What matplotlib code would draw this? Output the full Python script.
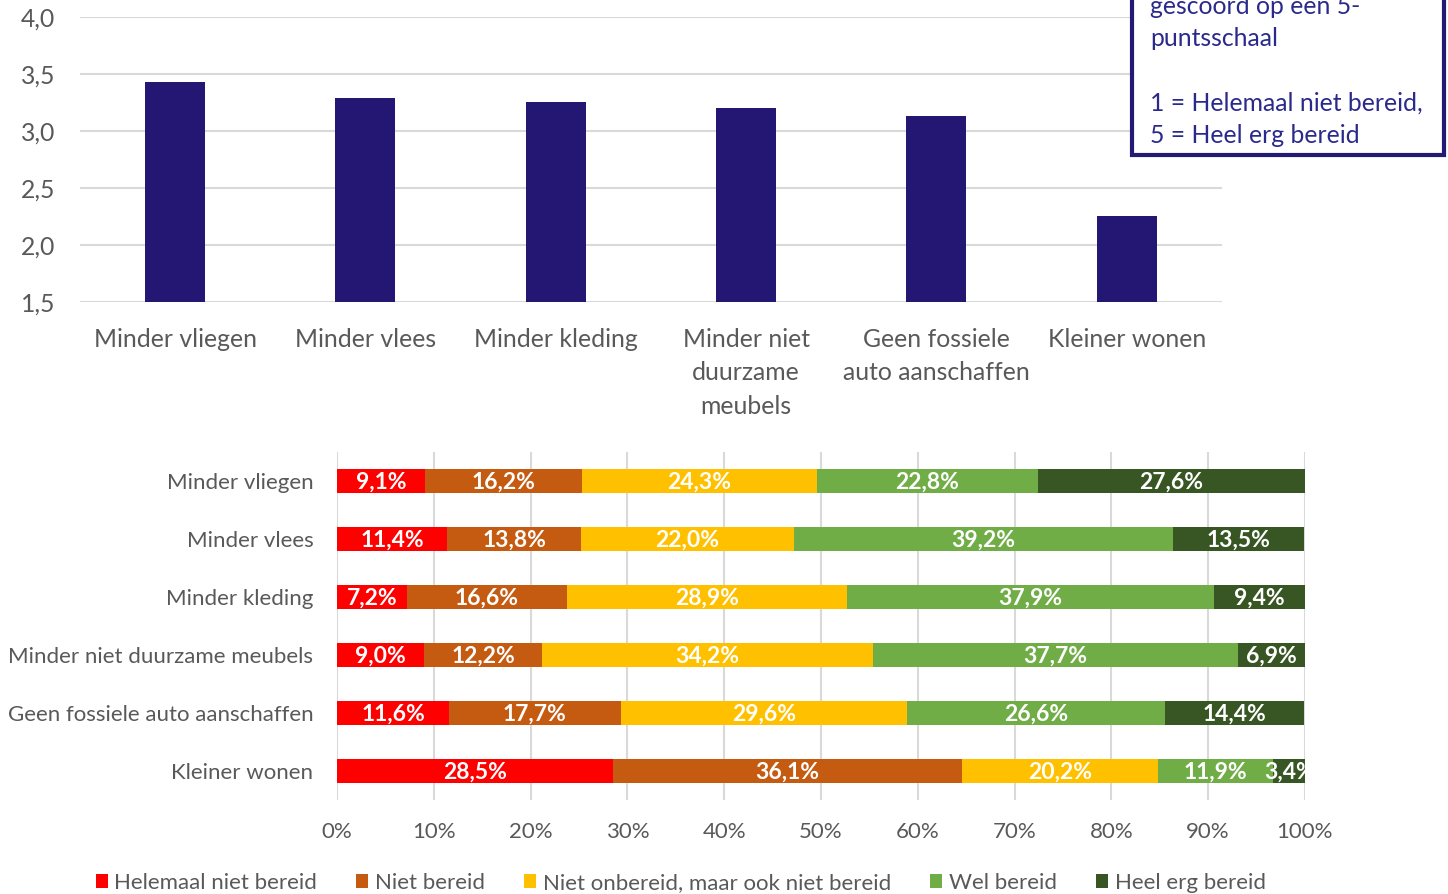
import matplotlib

matplotlib.use("Agg")
import matplotlib.pyplot as plt
from matplotlib.patches import Rectangle, Patch
import numpy as np

plt.rcParams["font.family"] = ["Lato", "DejaVu Sans"]

# top chart: mean scores on 5-point scale
mean_labels = ["Minder vliegen", "Minder vlees", "Minder kleding",
               "Minder niet\nduurzame\nmeubels", "Geen fossiele\nauto aanschaffen",
               "Kleiner wonen"]
mean_scores = [3.43, 3.29, 3.25, 3.20, 3.13, 2.25]
mean_ticks = [1.5, 2.0, 2.5, 3.0, 3.5, 4.0]

# bottom chart: answer distribution (%)
dist_labels = ["Minder vliegen", "Minder vlees", "Minder kleding",
               "Minder niet duurzame meubels", "Geen fossiele auto aanschaffen",
               "Kleiner wonen"]
answer_names = ["Helemaal niet bereid", "Niet bereid",
                "Niet onbereid, maar ook niet bereid", "Wel bereid", "Heel erg bereid"]
helemaal_niet = [9.1, 11.4, 7.2, 9.0, 11.6, 28.5]
niet = [16.2, 13.8, 16.6, 12.2, 17.7, 36.1]
neutraal = [24.3, 22.0, 28.9, 34.2, 29.6, 20.2]
wel = [22.8, 39.2, 37.9, 37.7, 26.6, 11.9]
heel_erg = [27.6, 13.5, 9.4, 6.9, 14.4, 3.4]
pct_ticks = list(range(0, 101, 10))

answer_colors = ["#FF0000", "#C55A11", "#FFC000", "#70AD47", "#375623"]
bar_color = "#241773"
grey = "#595959"
grid_c = "#D9D9D9"

fig = plt.figure(figsize=(14.48, 8.94), dpi=100)

# ---- top bar chart
ax1 = fig.add_axes([0.0552, 0.6622, 0.7887, 0.3188])
x = np.arange(len(mean_scores))
ax1.bar(x, mean_scores, width=0.315, color=bar_color, zorder=3)
ax1.set_xlim(-0.5, len(mean_scores) - 0.5)
ax1.set_ylim(1.5, 4.0)
ax1.set_yticks(mean_ticks)
ax1.set_yticklabels([f"{t:.1f}".replace(".", ",") for t in mean_ticks])
ax1.set_xticks(x)
ax1.set_xticklabels(mean_labels, linespacing=1.53, va="top")
ax1.grid(axis="y", color=grid_c, linewidth=1.5, zorder=0)
for s in ax1.spines.values():
    s.set_visible(False)
ax1.tick_params(length=0, labelsize=17.8, labelcolor=grey)
ax1.tick_params(axis="x", pad=19)
ax1.tick_params(axis="y", pad=18)

# ---- bottom stacked bar chart
ax2 = fig.add_axes([0.2327, 0.1051, 0.6685, 0.3893])
y = np.arange(len(dist_labels))
series = [helemaal_niet, niet, neutraal, wel, heel_erg]
left = np.zeros(len(dist_labels))
for vals, name, col in zip(series, answer_names, answer_colors):
    vals = np.array(vals)
    bars = ax2.barh(y, vals, left=left, height=0.40, color=col, label=name, zorder=3)
    for b, v in zip(bars, vals):
        ax2.text(b.get_x() + b.get_width() / 2, b.get_y() + b.get_height() / 2 + 0.02,
                 f"{v:.1f}%".replace(".", ","), ha="center", va="center",
                 color="white", fontweight="bold", fontsize=16.5, zorder=4)
    left += vals
ax2.set_xlim(0, 100)
ax2.set_ylim(len(dist_labels) - 0.5, -0.5)
ax2.set_yticks(y)
ax2.set_yticklabels(dist_labels)
ax2.set_xticks(pct_ticks)
ax2.set_xticklabels([f"{t}%" for t in pct_ticks])
ax2.grid(axis="x", color=grid_c, linewidth=1.5, zorder=0)
for s in ax2.spines.values():
    s.set_visible(False)
ax2.tick_params(length=0, labelsize=16, labelcolor=grey)
ax2.tick_params(axis="x", pad=16)
ax2.tick_params(axis="y", pad=17)

handles = [Patch(facecolor=c, label=n) for c, n in zip(answer_colors, answer_names)]
fig.legend(handles=handles, loc="center left", bbox_to_anchor=(0.066, 0.012),
           ncol=5, frameon=False, fontsize=16, labelcolor=grey,
           handlelength=0.55, handleheight=0.6, handletextpad=0.3,
           columnspacing=1.75, borderaxespad=0, borderpad=0)

# ---- explanation box (top right, partly outside the figure)
fig.patches.append(Rectangle((0.7815, 0.8266), 0.2155, 0.3, transform=fig.transFigure,
                             facecolor="white", edgecolor="#231A76", linewidth=3,
                             zorder=5))
fig.text(0.7945, 0.836, "gescoord op een 5-\npuntsschaal\n\n1 = Helemaal niet bereid,\n5 = Heel erg bereid",
         ha="left", va="bottom", fontsize=17.8, color="#2B2A8C", linespacing=1.48, zorder=6)

fig.savefig("out.png", dpi=100)
